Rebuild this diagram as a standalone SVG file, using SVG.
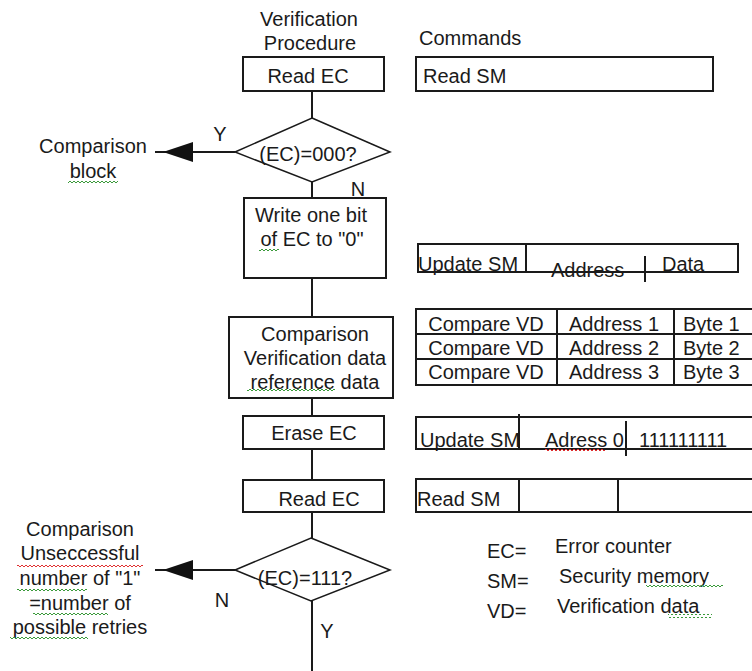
<svg xmlns="http://www.w3.org/2000/svg" xmlns:xlink="http://www.w3.org/1999/xlink" width="752" height="671" viewBox="0 0 752 671">
<style>
text{font-family:"Liberation Sans",Arial,sans-serif;font-size:20px;fill:#1a1a1a}
.c{text-anchor:middle}
.box{fill:#fff;stroke:#1a1a1a;stroke-width:2}
.ln{stroke:#1a1a1a;stroke-width:2;fill:none}
.dia{fill:#fff;stroke:#1a1a1a;stroke-width:1.5}
</style>
<defs>
<polygon id="arrowL" points="0,0 30,-10 30,10" fill="#111"/>
<pattern id="sqG" width="4" height="4" patternUnits="userSpaceOnUse"><path d="M0,3 L2,1 L4,3" stroke="#3a9a3a" stroke-width="1" fill="none"/></pattern>
<pattern id="sqR" width="4" height="4" patternUnits="userSpaceOnUse"><path d="M0,3 L2,1 L4,3" stroke="#e03030" stroke-width="1" fill="none"/></pattern>
</defs>
<rect width="752" height="671" fill="#fff"/>

<g id="connectors">
<line class="ln" x1="312" y1="91" x2="312" y2="118"/>
<line class="ln" x1="312" y1="182" x2="312" y2="198"/>
<line class="ln" x1="312" y1="278" x2="312" y2="317"/>
<line class="ln" x1="312" y1="398" x2="312" y2="416"/>
<line class="ln" x1="312" y1="449" x2="312" y2="480"/>
<line class="ln" x1="312" y1="512" x2="312" y2="538"/>
<line class="ln" x1="312" y1="601" x2="312" y2="671"/>
<line class="ln" x1="235" y1="152" x2="155" y2="152"/>
<use href="#arrowL" x="163" y="152"/>
<line class="ln" x1="235" y1="570" x2="155" y2="570"/>
<use href="#arrowL" x="163" y="570"/>
<text x="220" y="141" class="c">Y</text>
<text x="358" y="196" class="c">N</text>
<text x="222" y="607" class="c">N</text>
<text x="327" y="638" class="c">Y</text>
</g>

<g id="title-procedure">
<text x="309" y="26" class="c">Verification</text>
<text x="310" y="50" class="c">Procedure</text>
</g>
<g id="title-commands">
<text x="419" y="45">Commands</text>
</g>

<g id="read-ec-1">
<rect class="box" x="243" y="57" width="141" height="34"/>
<text x="308" y="83" class="c">Read EC</text>
</g>
<g id="cmd-read-sm-1">
<rect class="box" x="416" y="57" width="297" height="34"/>
<text x="423" y="83">Read SM</text>
</g>

<g id="decision-000">
<polygon class="dia" points="312,118 390,152 312,182 235,152"/>
<text x="308" y="161" class="c">(EC)=000?</text>
</g>
<g id="comparison-block">
<text x="93" y="153" class="c">Comparison</text>
<text x="93" y="178" class="c">block</text>
<rect x="68" y="179" width="50" height="4" fill="url(#sqG)"/>
</g>

<g id="write-bit">
<rect class="box" x="244" y="198" width="142" height="80"/>
<text x="311" y="222" class="c">Write one bit</text>
<text x="312" y="246" class="c">of EC to "0"</text>
<rect x="259" y="247" width="20" height="4" fill="url(#sqG)"/>
</g>
<g id="cmd-update-sm-1">
<rect class="box" x="418" y="244" width="320" height="28"/>
<line class="ln" x1="526" y1="244" x2="526" y2="272"/>
<line class="ln" x1="645" y1="256" x2="645" y2="282"/>
<text x="418" y="271">Update SM</text>
<text x="551" y="277">Address</text>
<text x="662" y="271">Data</text>
</g>

<g id="comparison-box">
<rect class="box" x="229" y="317" width="164" height="81"/>
<text x="315" y="341" class="c">Comparison</text>
<text x="315" y="365" class="c">Verification data</text>
<text x="315" y="389" class="c">reference data</text>
<rect x="247" y="389" width="88" height="4" fill="url(#sqG)"/>
</g>
<g id="cmd-compare-table">
<path class="ln" d="M752,309 H416 V385 H752 M416,334 H752 M416,359 H752 M557,309 V385 M674,309 V385"/>
<text x="486" y="331" class="c">Compare VD</text>
<text x="614" y="331" class="c">Address 1</text>
<text x="683" y="331">Byte 1</text>
<text x="486" y="355" class="c">Compare VD</text>
<text x="614" y="355" class="c">Address 2</text>
<text x="683" y="355">Byte 2</text>
<text x="486" y="379" class="c">Compare VD</text>
<text x="614" y="379" class="c">Address 3</text>
<text x="683" y="379">Byte 3</text>
</g>

<g id="erase-ec">
<rect class="box" x="243" y="416" width="141" height="33"/>
<text x="314" y="440" class="c">Erase EC</text>
</g>
<g id="cmd-update-sm-2">
<path class="ln" d="M752,417 H416 V449 H752"/>
<line class="ln" x1="519" y1="414" x2="519" y2="449"/>
<line class="ln" x1="626" y1="421" x2="626" y2="456"/>
<text x="420" y="447">Update SM</text>
<text x="545" y="447">Adress 0</text>
<rect x="545" y="449" width="60" height="4" fill="url(#sqR)"/>
<text x="639" y="447">111111111</text>
</g>

<g id="read-ec-2">
<rect class="box" x="243" y="480" width="141" height="32"/>
<text x="319" y="506" class="c">Read EC</text>
</g>
<g id="cmd-read-sm-2">
<path class="ln" d="M752,479 H416 V512 H752"/>
<line class="ln" x1="519" y1="478" x2="519" y2="512"/>
<line class="ln" x1="618" y1="478" x2="618" y2="512"/>
<text x="417" y="506">Read SM</text>
</g>

<g id="decision-111">
<polygon class="dia" points="311,538 390,570 311,601 235,570"/>
<text x="305" y="585" class="c">(EC)=111?</text>
</g>
<g id="retries-note">
<text x="80" y="536" class="c">Comparison</text>
<text x="80" y="560" class="c">Unseccessful</text>
<rect x="17" y="563" width="126" height="4" fill="url(#sqR)"/>
<text x="80" y="585" class="c">number of "1"</text>
<rect x="17" y="587" width="70" height="4" fill="url(#sqG)"/>
<text x="80" y="610" class="c">=number of</text>
<rect x="33" y="612" width="75" height="4" fill="url(#sqG)"/>
<text x="80" y="634" class="c">possible retries</text>
<rect x="10" y="636" width="78" height="4" fill="url(#sqG)"/>
</g>

<g id="legend">
<text x="487" y="558">EC=</text>
<text x="555" y="553">Error counter</text>
<text x="487" y="588">SM=</text>
<text x="559" y="583">Security memory</text>
<rect x="646" y="584" width="77" height="4" fill="url(#sqG)"/>
<text x="487" y="618">VD=</text>
<text x="557" y="613">Verification data</text>
<rect x="668" y="614" width="44" height="4" fill="url(#sqG)"/>
</g>
</svg>
